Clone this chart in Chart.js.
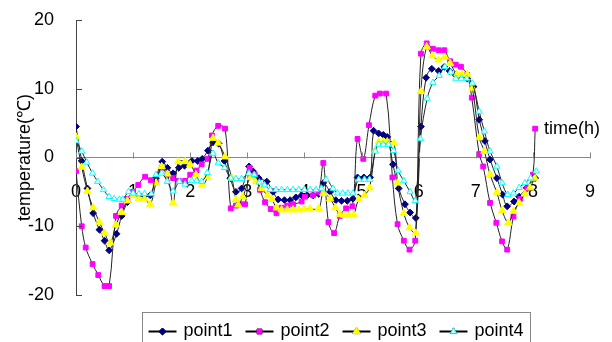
<!DOCTYPE html>
<html>
<head>
<meta charset="utf-8">
<script src="https://cdn.jsdelivr.net/npm/chart.js@4.4.0/dist/chart.umd.min.js"></script>
<style>
  html, body { margin: 0; padding: 0; background: #fff; }
  #wrap { width: 612px; height: 342px; }
</style>
</head>
<body>
<div id="wrap"><canvas id="chart" width="612" height="342"></canvas></div>
<script>
// series names
const seriesNames = ["point1", "point2", "point3", "point4"];

// point1 (time h / temperature)
const t1 = [0, 0.1, 0.2, 0.3, 0.41, 0.5, 0.58, 0.71, 0.8, 0.9, 1.0, 1.1, 1.2, 1.3, 1.4, 1.51, 1.6, 1.7, 1.8, 1.9, 2.03, 2.13, 2.21, 2.31, 2.4, 2.5, 2.6, 2.7, 2.8, 2.9, 3.03, 3.1, 3.2, 3.34, 3.45, 3.54, 3.65, 3.75, 3.85, 3.95, 4.05, 4.15, 4.25, 4.33, 4.45, 4.55, 4.65, 4.75, 4.85, 4.93, 5.04, 5.15, 5.21, 5.3, 5.38, 5.45, 5.55, 5.65, 5.76, 5.85, 5.95, 6.04, 6.13, 6.23, 6.35, 6.45, 6.54, 6.65, 6.75, 6.85, 6.96, 7.06, 7.16, 7.25, 7.37, 7.47, 7.55, 7.67, 7.76, 7.89, 8.04];
const v1 = [4.5, -0.5, -4.5, -8.1, -10.5, -12.1, -13.5, -11.1, -8.5, -6.5, -5.3, -5.5, -5.6, -5.5, -3, -0.6, -1.5, -2.3, -1.5, -1.2, -0.5, -0.5, -0.2, 1, 2.2, 2, -0.5, -3, -5, -4.5, -1.3, -2, -3, -3.5, -5, -6.1, -6.2, -6.2, -5.8, -5.5, -5.5, -5.5, -5.3, -3.7, -5, -6.2, -6.3, -6.3, -6, -2.9, -2.9, -2.9, 3.9, 3.5, 3.3, 3, -1, -4.5, -6.8, -8, -8.8, 4.5, 11.6, 12.9, 12.6, 13.2, 12.6, 12, 11.8, 11.5, 10.3, 5.5, 2.4, -0.3, -3, -5.4, -7.1, -6.4, -5.7, -4.4, -3];

// point2
const t2 = [0, 0.1, 0.17, 0.29, 0.39, 0.5, 0.58, 0.7, 0.8, 0.9, 1.0, 1.09, 1.21, 1.31, 1.4, 1.5, 1.6, 1.7, 1.8, 1.91, 2.0, 2.11, 2.2, 2.31, 2.38, 2.49, 2.61, 2.71, 2.8, 2.87, 2.96, 3.04, 3.13, 3.22, 3.31, 3.41, 3.51, 3.6, 3.7, 3.8, 3.95, 4.01, 4.15, 4.25, 4.33, 4.42, 4.52, 4.62, 4.73, 4.84, 4.93, 5.03, 5.13, 5.24, 5.32, 5.43, 5.54, 5.63, 5.74, 5.84, 5.94, 6.04, 6.14, 6.25, 6.35, 6.45, 6.55, 6.65, 6.74, 6.85, 6.93, 7.06, 7.13, 7.25, 7.36, 7.46, 7.55, 7.66, 7.78, 7.9, 8.0, 8.04];
const v2 = [-2, -10, -13.1, -15.5, -17.1, -18.7, -18.7, -8.5, -7, -6, -5, -4, -2.8, -3.3, -3.5, -1.5, -2.5, -3, -3.4, -3.4, -2.5, -1.9, -1, -0.2, 3.2, 4.6, 4.2, -7.4, -7, -6.8, -6.8, -1.5, -2.5, -4.7, -6.5, -7.5, -8.1, -7.3, -7, -6.8, -6.4, -5.7, -5.5, -5, -0.8, -9.4, -11, -8.5, -7.4, -7.1, 2.7, -0.2, 4.7, 9, 9.3, 9.3, -2.9, -9.7, -12.1, -13.4, -12.1, 15.1, 16.6, 15.8, 15.6, 15.6, 14, 13.5, 13.2, 12, 8.7, 0.5, -1.3, -6.6, -9.5, -12.2, -13.4, -8.6, -6, -4.5, -2.5, 4.2];

// point3
const t3 = [0, 0.1, 0.2, 0.3, 0.41, 0.5, 0.6, 0.7, 0.8, 0.9, 1.0, 1.1, 1.2, 1.3, 1.4, 1.5, 1.6, 1.7, 1.79, 1.91, 2.0, 2.1, 2.21, 2.3, 2.4, 2.49, 2.61, 2.73, 2.8, 2.84, 2.92, 3.06, 3.15, 3.25, 3.35, 3.43, 3.51, 3.6, 3.7, 3.8, 3.9, 4.0, 4.1, 4.25, 4.33, 4.45, 4.54, 4.62, 4.7, 4.78, 4.86, 4.95, 5.05, 5.14, 5.24, 5.3, 5.38, 5.45, 5.57, 5.63, 5.74, 5.84, 5.95, 6.04, 6.14, 6.24, 6.35, 6.46, 6.55, 6.67, 6.76, 6.85, 6.94, 7.06, 7.15, 7.25, 7.37, 7.46, 7.57, 7.66, 7.76, 7.86, 7.95, 8.03];
const v3 = [3, -1.4, -4.9, -7.3, -9.4, -11, -12.4, -9.8, -8, -6.3, -5.5, -6, -6, -6.8, -3.7, -1.3, -2.4, -6.6, -0.6, -0.6, -1, -2.5, -4, -2.8, 2.8, 2.1, 0.1, -3, -6.1, -6.9, -5.7, -2.9, -3.5, -4.5, -5.5, -6.1, -7.3, -7.6, -7.6, -7.6, -7.6, -7.5, -7.5, -7.4, -5.2, -6, -7.3, -8.3, -8.4, -8.4, -8.3, -6.1, -5.5, -4.4, 1, 2.3, 2.3, 2.3, 2.1, -3.7, -8.1, -10.2, -11, 9.6, 16.1, 14.8, 14.2, 14.6, 13.7, 12.1, 12.1, 12.1, 10.1, 2.9, 0.9, -2.5, -5.1, -7.7, -9.5, -7.8, -6.6, -5.3, -4.4, -3];

// point4
const t4 = [0, 0.1, 0.19, 0.29, 0.38, 0.48, 0.58, 0.67, 0.76, 0.82, 0.92, 1.0, 1.1, 1.2, 1.32, 1.4, 1.5, 1.6, 1.7, 1.81, 1.91, 2.03, 2.11, 2.2, 2.3, 2.4, 2.49, 2.6, 2.71, 2.8, 2.9, 3.03, 3.12, 3.21, 3.3, 3.4, 3.5, 3.6, 3.7, 3.8, 3.9, 4.0, 4.1, 4.2, 4.3, 4.38, 4.5, 4.58, 4.67, 4.76, 4.85, 4.95, 5.05, 5.14, 5.24, 5.3, 5.38, 5.47, 5.56, 5.64, 5.74, 5.85, 5.94, 6.03, 6.15, 6.25, 6.36, 6.46, 6.56, 6.65, 6.75, 6.84, 6.94, 7.06, 7.15, 7.25, 7.37, 7.46, 7.56, 7.66, 7.76, 7.86, 7.96, 8.06];
const v4 = [2.4, 0.9, -0.7, -2.3, -3.5, -4.7, -5.7, -6, -6.1, -6.1, -5, -5.2, -5.3, -5.3, -5.3, -2.5, -2.3, -3.5, -4.9, -3.5, -3.9, -3.4, -3.4, -3.5, -2.2, 0.6, -0.8, -1.5, -3, -3.1, -3.1, -2.3, -2.5, -3.6, -4, -4.7, -4.7, -4.7, -4.7, -4.7, -4.7, -4.7, -4.7, -4.7, -4.5, -3.2, -4.5, -5.2, -5.2, -5.2, -5.2, -3.2, -3.2, -3.2, 0.9, 1.9, 1.9, 1.9, 1, -1.9, -3.4, -5, -6.3, 2.7, 8.6, 10.9, 11.9, 13.2, 12.4, 11.5, 11.5, 11.5, 10.8, 6.7, 3.8, 0.9, -1.3, -3.7, -5.4, -5.2, -4.4, -3.7, -3, -2];

// axis ticks
const xTicks = [0, 1, 2, 3, 4, 5, 6, 7, 8, 9];
const yTicks = [-20, -10, 0, 10, 20];

const FONT = '"Liberation Sans", Arial, sans-serif';
Chart.defaults.font.family = FONT;
Chart.defaults.font.size = 18;
Chart.defaults.color = "#000";

const styles = [
  { pointStyle: "rectRot", radius: 3.4, fill: "#000080", stroke: "#000080" },
  { pointStyle: "rect", radius: 3.4, fill: "#FF00FF", stroke: "#FF00FF" },
  { pointStyle: "triangle", radius: 4.2, fill: "#FFFF00", stroke: "#FFFF00" },
  { pointStyle: "triangle", radius: 3.6, fill: "#FFFFFF", stroke: "#00FFFF" }
];

const times = [t1, t2, t3, t4];
const values = [v1, v2, v3, v4];

const datasets = seriesNames.map((name, i) => ({
  label: name,
  data: times[i].map((t, k) => ({ x: t, y: values[i][k] })),
  showLine: true,
  borderColor: "#222",
  borderWidth: 1,
  tension: 0.35,
  pointStyle: styles[i].pointStyle,
  pointRadius: styles[i].radius,
  pointBackgroundColor: styles[i].fill,
  pointBorderColor: styles[i].stroke,
  pointBorderWidth: 1,
  order: 3 - i
}));

// axis tick marks, time label and boxed legend
const extras = {
  id: "extras",
  afterDraw(chart) {
    const { ctx, chartArea, scales: { x, y } } = chart;
    ctx.save();
    ctx.lineWidth = 1;

    ctx.strokeStyle = "#444";
    yTicks.forEach(v => {
      const py = Math.round(y.getPixelForValue(v)) + 0.5;
      ctx.beginPath();
      ctx.moveTo(chartArea.left, py);
      ctx.lineTo(chartArea.left + 6, py);
      ctx.stroke();
    });

    ctx.strokeStyle = "#888";
    const y0 = Math.round(y.getPixelForValue(0)) + 0.5;
    xTicks.forEach(v => {
      const px = Math.round(x.getPixelForValue(v)) + 0.5;
      ctx.beginPath();
      ctx.moveTo(px, y0);
      ctx.lineTo(px, y0 - 6);
      ctx.stroke();
    });

    // axis title on the right
    ctx.font = "18px " + FONT;
    ctx.fillStyle = "#000";
    ctx.textBaseline = "middle";
    ctx.textAlign = "left";
    ctx.fillText("time(h)", chartArea.right - 46, y0 - 29);

    // legend
    const lx = 142.5, ly = 312.5, step = 97;
    ctx.strokeStyle = "#888";
    ctx.strokeRect(lx, ly, 388, 40);
    seriesNames.forEach((name, i) => {
      const sx = lx + 6 + i * step;
      const cy = ly + 19;
      ctx.strokeStyle = "#000";
      ctx.lineWidth = 2;
      ctx.beginPath();
      ctx.moveTo(sx, cy);
      ctx.lineTo(sx + 28, cy);
      ctx.stroke();
      ctx.lineWidth = 1;
      Chart.helpers.drawPoint(ctx, {
        pointStyle: styles[i].pointStyle,
        radius: styles[i].radius,
        borderWidth: 1
      }, sx + 14, cy);
      ctx.fillStyle = styles[i].fill;
      ctx.strokeStyle = styles[i].stroke;
      ctx.fill();
      ctx.stroke();
      ctx.fillStyle = "#000";
      ctx.fillText(name, sx + 35, cy);
    });
    ctx.restore();
  }
};

// invisible tick marks are used as the label offset so the layout
// padding is not inflated by ticks.padding
new Chart(document.getElementById("chart"), {
  type: "scatter",
  data: { datasets },
  options: {
    responsive: false,
    animation: false,
    layout: { padding: { left: 0, right: 22, top: 20, bottom: 47 } },
    plugins: { legend: { display: false }, tooltip: { enabled: false } },
    scales: {
      x: {
        type: "linear",
        min: 0,
        max: 9,
        position: { y: 0 },
        border: { color: "#888" },
        grid: { display: true, drawOnChartArea: false, drawTicks: true, tickLength: 24, tickColor: "rgba(0,0,0,0)" },
        ticks: { stepSize: 1, padding: 0, maxRotation: 0, color: "#000" }
      },
      y: {
        min: -20,
        max: 20,
        border: { color: "#444" },
        grid: { display: true, drawOnChartArea: false, drawTicks: true, tickLength: 22, tickColor: "rgba(0,0,0,0)" },
        ticks: { stepSize: 10, padding: 0, color: "#000" },
        title: { display: true, text: "temperature(℃)", padding: { top: 14, bottom: 0 } },
        afterFit(scale) { scale.width = 76; }
      }
    }
  },
  plugins: [extras]
});
</script>
</body>
</html>
